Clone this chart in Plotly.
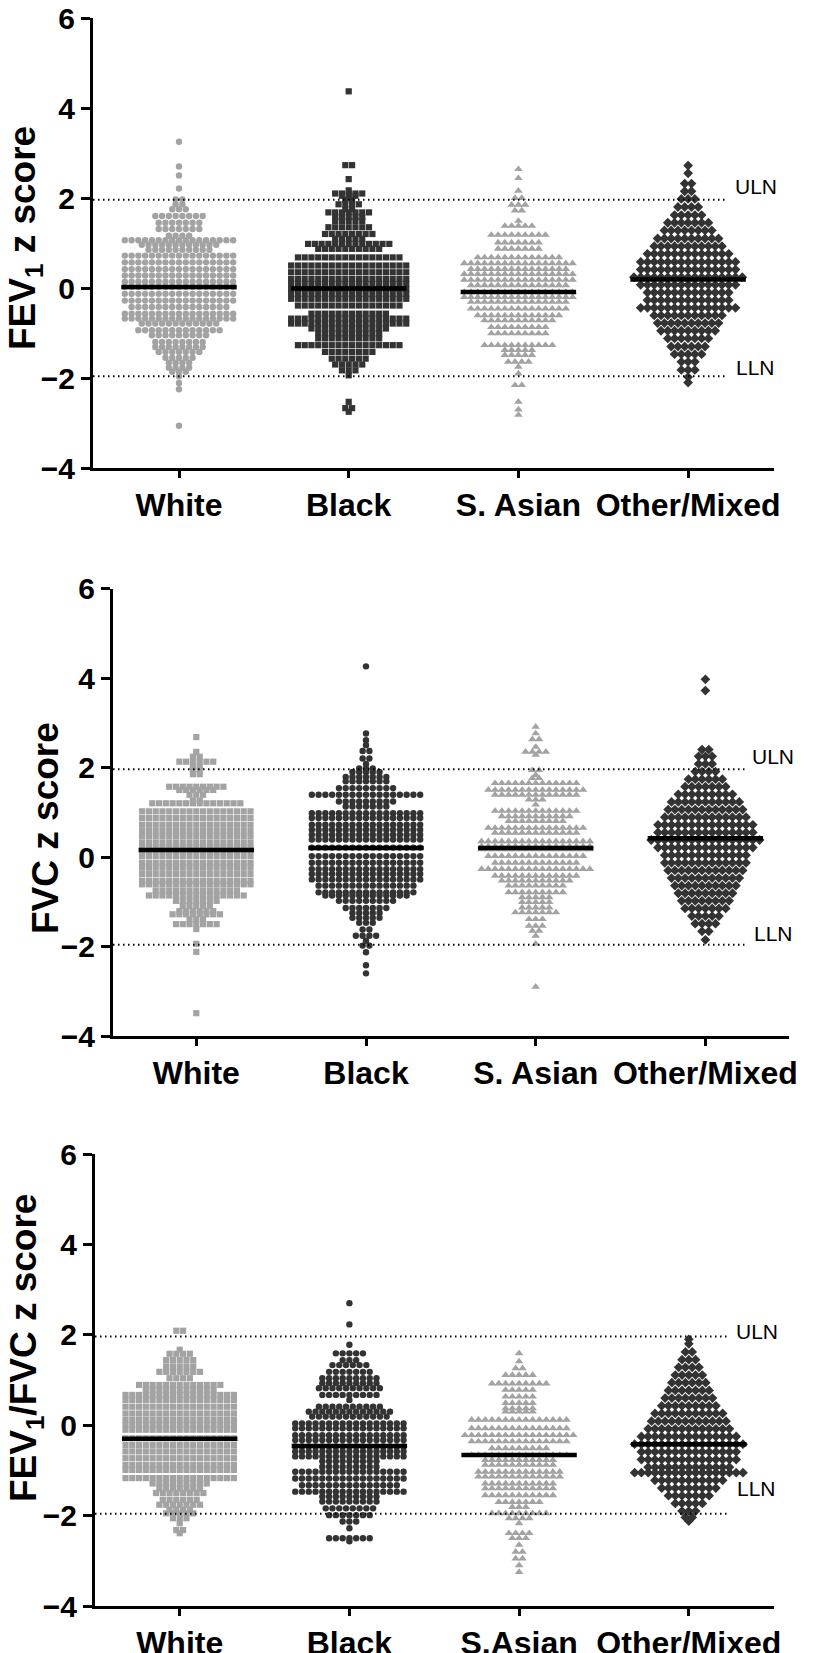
import plotly.graph_objects as go

W, H = 816, 1653
OFF = 8  # the page body adds an 8 px margin; positions below are measured on the reference

cats_top = ["White", "Black", "S. Asian", "Other/Mixed"]
cats_bottom = ["White", "Black", "S.Asian", "Other/Mixed"]

# ---------------- Panel 1: FEV1 z score (row level, points in row) ----------------
fev1_white_z = [3.25, 2.70, 2.50, 2.21, 1.97, 1.86, 1.75, 1.60, 1.45, 1.31, 1.16, 1.06, 0.96, 0.85, 0.72, 0.57,
                0.42, 0.28, 0.14, 0.02, -0.13, -0.28, -0.42, -0.57, -0.68, -0.79, -0.94, -1.05, -1.20, -1.31,
                -1.42, -1.55, -1.66, -1.77, -1.86, -1.96, -2.11, -2.25, -3.06]
fev1_white_n = [1, 1, 1, 1, 2, 2, 3, 8, 7, 7, 4, 17, 12, 10, 17, 17,
                17, 17, 17, 17, 17, 17, 15, 17, 17, 12, 13, 9, 8, 8,
                7, 5, 4, 4, 3, 1, 1, 1, 1]
fev1_black_z = [4.37, 2.73, 2.42, 2.17, 2.10, 2.05, 1.96, 1.86, 1.75, 1.68, 1.58, 1.49, 1.35, 1.20, 1.09, 0.98,
                0.87, 0.68, 0.50, 0.35, 0.20, 0.09, -0.02, -0.13, -0.24, -0.39, -0.57, -0.68, -0.79, -0.90,
                -1.01, -1.12, -1.27, -1.42, -1.57, -1.70, -1.83, -1.94, -2.53, -2.67, -2.75]
fev1_black_n = [1, 2, 1, 1, 5, 3, 2, 4, 2, 7, 5, 5, 7, 8, 5, 13,
                10, 16, 18, 18, 18, 18, 18, 18, 18, 16, 12, 18, 18, 12,
                10, 10, 16, 8, 6, 5, 3, 1, 1, 2, 1]
fev1_sasian_z = [2.64, 2.44, 2.16, 2.00, 1.85, 1.72, 1.49, 1.38, 1.18, 1.01, 0.87, 0.68, 0.55, 0.42, 0.31, 0.18,
                 0.06, -0.09, -0.20, -0.31, -0.46, -0.61, -0.72, -0.87, -1.01, -1.27, -1.38, -1.49, -1.64,
                 -1.75, -1.90, -2.16, -2.53, -2.70, -2.82]
fev1_sasian_n = [1, 1, 1, 2, 3, 2, 1, 5, 9, 7, 7, 13, 17, 15, 17, 17,
                 15, 17, 17, 15, 15, 13, 11, 9, 9, 11, 5, 5, 4,
                 1, 1, 2, 1, 1, 1]
fev1_other_z = [2.72, 2.55, 2.32, 2.15, 1.98, 1.80, 1.62, 1.45, 1.28, 1.10, 0.93, 0.76, 0.58, 0.41, 0.24,
                0.07, -0.10, -0.27, -0.44, -0.61, -0.78, -0.95, -1.12, -1.30, -1.47, -1.64, -1.82, -1.98, -2.10]
fev1_other_n = [1, 1, 2, 2, 3, 4, 5, 7, 8, 10, 11, 13, 15, 15, 17,
                15, 13, 13, 15, 11, 10, 9, 7, 6, 5, 3, 3, 1, 1]
fev1_means = [0.02, -0.01, -0.09, 0.19]

# ---------------- Panel 2: FVC z score ----------------
fvc_white_z = [2.68, 2.35, 2.24, 2.13, 2.02, 1.94, 1.85, 1.57, 1.50, 1.39, 1.26, 1.20, 1.02, 0.87, 0.72, 0.58,
               0.46, 0.32, 0.21, 0.15, 0.02, -0.13, -0.24, -0.38, -0.53, -0.61, -0.75, -0.86, -0.98, -1.09,
               -1.21, -1.28, -1.39, -1.50, -1.61, -1.94, -2.12, -3.49]
fvc_white_n = [1, 1, 2, 6, 2, 2, 2, 9, 6, 3, 2, 14, 17, 17, 17, 17,
               17, 17, 17, 17, 17, 17, 17, 17, 17, 17, 13, 15, 7, 5,
               6, 8, 3, 7, 1, 1, 1, 1]
fvc_black_z = [4.26, 2.76, 2.61, 2.50, 2.37, 2.20, 2.08, 1.98, 1.90, 1.79, 1.69, 1.54, 1.39, 1.24, 1.13, 0.98,
               0.87, 0.72, 0.61, 0.50, 0.39, 0.21, 0.02, -0.13, -0.27, -0.38, -0.50, -0.64, -0.79, -0.86,
               -0.98, -1.14, -1.25, -1.36, -1.47, -1.62, -1.76, -1.87, -1.98, -2.13, -2.42, -2.60]
fvc_black_n = [1, 1, 1, 1, 2, 2, 1, 3, 5, 7, 7, 9, 17, 9, 7, 17,
               17, 17, 17, 17, 17, 17, 17, 17, 17, 17, 17, 15, 15, 13,
               9, 7, 5, 5, 3, 2, 4, 1, 2, 1, 1, 1]
fvc_sasian_z = [2.91, 2.76, 2.63, 2.46, 2.35, 2.28, 1.94, 1.83, 1.76, 1.65, 1.50, 1.39, 1.28, 1.17, 1.03, 0.91,
                0.80, 0.65, 0.54, 0.35, 0.24, 0.17, 0.02, -0.13, -0.27, -0.42, -0.53, -0.64, -0.79, -0.90,
                -1.01, -1.13, -1.24, -1.39, -1.54, -1.65, -1.76, -1.94, -2.90]
fvc_sasian_n = [1, 1, 2, 1, 4, 1, 2, 1, 2, 13, 15, 13, 3, 1, 13, 11,
                9, 15, 13, 17, 17, 17, 15, 13, 17, 13, 11, 9, 9, 5,
                5, 5, 7, 3, 3, 2, 1, 1, 1]
fvc_other_z = [3.97, 3.72, 2.40, 2.25, 2.08, 1.91, 1.74, 1.57, 1.40, 1.23, 1.06, 0.89, 0.72, 0.55, 0.38,
               0.21, 0.04, -0.13, -0.30, -0.47, -0.64, -0.81, -0.98, -1.15, -1.32, -1.49, -1.66, -1.85]
fvc_other_n = [1, 1, 2, 3, 3, 4, 6, 7, 9, 11, 12, 13, 15, 15, 17,
               15, 13, 13, 12, 11, 10, 9, 8, 7, 5, 4, 2, 1]
fvc_means = [0.155, 0.20, 0.20, 0.42]

# ---------------- Panel 3: FEV1/FVC z score ----------------
ratio_white_z = [2.09, 1.67, 1.58, 1.44, 1.30, 1.18, 1.04, 0.89, 0.78, 0.67, 0.56, 0.41, 0.26, 0.12, 0.01, -0.10,
                 -0.29, -0.44, -0.58, -0.73, -0.88, -0.99, -1.17, -1.29, -1.40, -1.50, -1.65, -1.76, -1.87,
                 -1.95, -2.06, -2.17, -2.32, -2.39]
ratio_white_n = [2, 1, 4, 5, 5, 7, 4, 13, 11, 17, 17, 17, 17, 17, 17, 17,
                 17, 17, 17, 17, 17, 17, 17, 9, 7, 8, 6, 7, 4,
                 5, 3, 1, 2, 1]
ratio_black_z = [2.70, 2.23, 1.78, 1.59, 1.44, 1.33, 1.18, 1.04, 0.93, 0.82, 0.67, 0.56, 0.41, 0.30, 0.19, 0.04,
                 -0.07, -0.22, -0.33, -0.47, -0.58, -0.69, -0.80, -0.92, -1.03, -1.18, -1.33, -1.47, -1.58,
                 -1.69, -1.84, -1.99, -2.13, -2.28, -2.50, -2.57]
ratio_black_n = [1, 1, 1, 5, 3, 6, 7, 9, 9, 10, 9, 1, 10, 13, 12, 17,
                 17, 17, 17, 17, 17, 17, 9, 9, 17, 17, 15, 17, 9,
                 9, 8, 7, 3, 1, 7, 1]
ratio_sasian_z = [1.59, 1.41, 1.26, 1.11, 0.92, 0.78, 0.63, 0.49, 0.37, 0.30, 0.12, -0.07, -0.22, -0.36, -0.51,
                  -0.66, -0.77, -0.88, -1.03, -1.14, -1.29, -1.40, -1.55, -1.70, -1.81, -1.95, -2.06, -2.17,
                  -2.39, -2.50, -2.65, -2.80, -2.95, -3.10, -3.25]
ratio_sasian_n = [1, 1, 2, 5, 9, 5, 5, 5, 5, 5, 15, 15, 17, 15, 9,
                  15, 11, 11, 13, 13, 11, 11, 11, 7, 3, 9, 4, 1,
                  4, 3, 1, 2, 2, 1, 1]
ratio_other_z = [1.90, 1.80, 1.62, 1.45, 1.28, 1.11, 0.94, 0.77, 0.60, 0.43, 0.26, 0.09, -0.08, -0.25, -0.42,
                 -0.59, -0.76, -0.93, -1.05, -1.22, -1.39, -1.56, -1.73, -1.90, -2.04, -2.12]
ratio_other_n = [1, 1, 2, 3, 4, 5, 6, 7, 8, 9, 11, 12, 13, 15, 17,
                 15, 15, 13, 17, 11, 9, 7, 5, 3, 2, 1]
ratio_means = [-0.30, -0.46, -0.66, -0.42]

ULN, LLN = 1.96, -1.96

GRAY = "#a3a3a3"
DARK = "#333333"

panels = [
    dict(groups=[(fev1_white_z, fev1_white_n, "circle", GRAY, 6.4),
                 (fev1_black_z, fev1_black_n, "square", DARK, 6.2),
                 (fev1_sasian_z, fev1_sasian_n, "triangle-up", GRAY, 7.5),
                 (fev1_other_z, fev1_other_n, "diamond", DARK, 7.5)],
         means=fev1_means, cats=cats_top, title="FEV<sub>1</sub> z score",
         c0=179.0, axis_left=93.0, y6=18.0, ym4=468.0, title_x=25, title_y=238,
         uln_dy=0.30, lln_dy=0.20),
    dict(groups=[(fvc_white_z, fvc_white_n, "square", GRAY, 6.2),
                 (fvc_black_z, fvc_black_n, "circle", DARK, 6.4),
                 (fvc_sasian_z, fvc_sasian_n, "triangle-up", GRAY, 7.5),
                 (fvc_other_z, fvc_other_n, "diamond", DARK, 7.5)],
         means=fvc_means, cats=cats_top, title="FVC z score",
         c0=196.3, axis_left=113.0, y6=588.5, ym4=1036.0, title_x=45, title_y=828,
         uln_dy=0.29, lln_dy=0.26),
    dict(groups=[(ratio_white_z, ratio_white_n, "square", GRAY, 6.2),
                 (ratio_black_z, ratio_black_n, "circle", DARK, 6.4),
                 (ratio_sasian_z, ratio_sasian_n, "triangle-up", GRAY, 7.5),
                 (ratio_other_z, ratio_other_n, "diamond", DARK, 7.5)],
         means=ratio_means, cats=cats_bottom, title="FEV<sub>1</sub>/FVC z score",
         c0=179.7, axis_left=95.0, y6=1154.0, ym4=1606.0, title_x=26, title_y=1348,
         uln_dy=0.12, lln_dy=0.55),
]

SPACING = 169.7   # px between categories
STEP = 0.0399     # horizontal offset between neighbouring points (category units)

fig = go.Figure()
FONT = "Arial, Liberation Sans, sans-serif"


def fx(px):
    return (px - OFF) / W


def fy(py):
    return 1 - (py - OFF) / H


for k, p in enumerate(panels):
    sfx = "" if k == 0 else str(k + 1)
    xa, ya = "x" + sfx, "y" + sfx
    gap = (p["c0"] - p["axis_left"]) / SPACING
    x_lo, x_hi = -gap, 3 + gap
    left_px = p["axis_left"]
    right_px = p["c0"] + x_hi * SPACING
    for gi, (zs, ns, sym, col, sz) in enumerate(p["groups"]):
        xs, ys = [], []
        for z, n in zip(zs, ns):
            for i in range(n):
                xs.append(gi + (i - (n - 1) / 2) * STEP)
                ys.append(z)
        fig.add_trace(go.Scatter(x=xs, y=ys, mode="markers", xaxis=xa, yaxis=ya,
                                 marker=dict(symbol=sym, color=col, size=sz, line=dict(width=0)),
                                 showlegend=False, hoverinfo="skip", cliponaxis=False))
    for gi, m in enumerate(p["means"]):
        fig.add_shape(type="line", xref=xa, yref=ya, x0=gi - 0.34, x1=gi + 0.34, y0=m, y1=m,
                      line=dict(color="black", width=4.5))
    for v in (ULN, LLN):
        fig.add_shape(type="line", xref=xa, yref=ya, x0=x_lo, x1=3.23, y0=v, y1=v,
                      line=dict(color="black", width=2, dash="1.5px,3.5px"))
    fig.add_annotation(xref=xa, yref=ya, x=3.40, y=ULN + p["uln_dy"], text="ULN", showarrow=False,
                       xanchor="center", yanchor="middle",
                       font=dict(family=FONT, size=21, color="black"))
    fig.add_annotation(xref=xa, yref=ya, x=3.40, y=LLN + p["lln_dy"], text="LLN", showarrow=False,
                       xanchor="center", yanchor="middle",
                       font=dict(family=FONT, size=21, color="black"))
    fig.layout["xaxis" + sfx] = dict(
        domain=[fx(left_px), fx(right_px)], range=[x_lo, x_hi], anchor=ya, automargin=False,
        tickmode="array", tickvals=[0, 1, 2, 3], ticktext=p["cats"], ticklabeloverflow="allow",
        showline=True, linecolor="black", linewidth=3, ticks="outside", ticklen=7, tickwidth=3,
        tickcolor="black", showgrid=False, zeroline=False,
        tickfont=dict(family=FONT, size=32, color="black", weight="bold"))
    fig.layout["yaxis" + sfx] = dict(
        domain=[fy(p["ym4"]), fy(p["y6"])], range=[-4, 6], anchor=xa, automargin=False,
        tickmode="array", tickvals=[-4, -2, 0, 2, 4, 6], ticklabeloverflow="allow",
        showline=True, linecolor="black", linewidth=3, ticks="outside", ticklen=9, tickwidth=3,
        tickcolor="black", showgrid=False, zeroline=False,
        tickfont=dict(family=FONT, size=30, color="black", weight="bold"))
    fig.add_annotation(xref="paper", yref="paper", x=fx(p["title_x"]), y=fy(p["title_y"]),
                       text=p["title"], textangle=-90, showarrow=False,
                       xanchor="center", yanchor="middle",
                       font=dict(family=FONT, size=37, color="black", weight="bold"))

fig.update_layout(width=W, height=H, margin=dict(l=0, r=0, t=0, b=0),
                  paper_bgcolor="white", plot_bgcolor="white")
fig.write_html("out.html")
